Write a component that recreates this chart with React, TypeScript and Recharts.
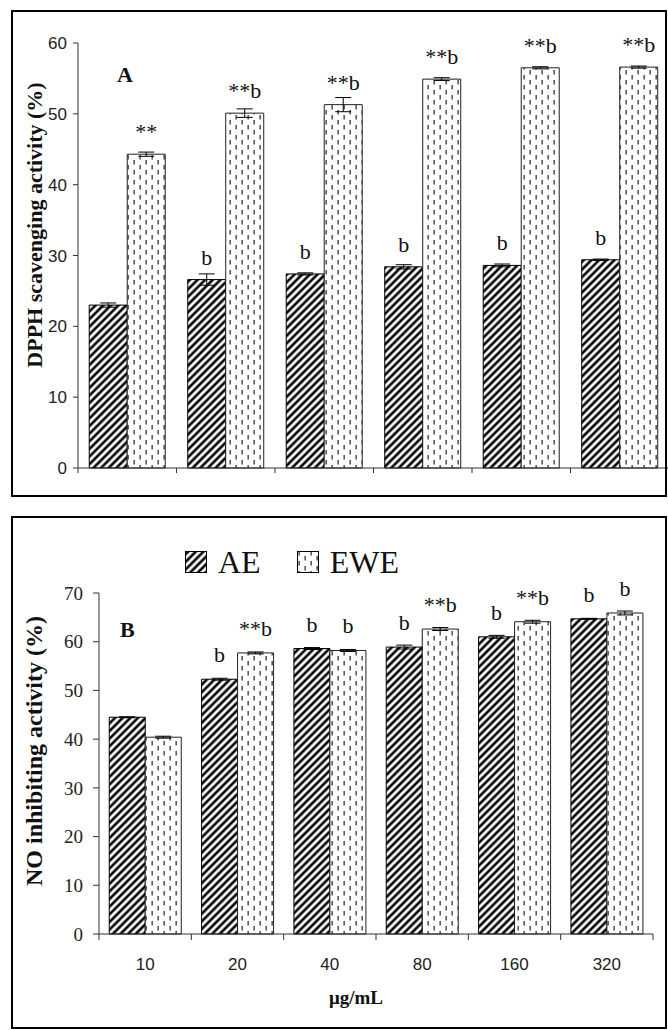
import React from 'react';
import { BarChart, Bar, XAxis, YAxis, ErrorBar, LabelList, Legend } from 'recharts';

const doses = ['10', '20', '40', '80', '160', '320'];
const edgeTicks = [0, 0.5, 1, 1.5, 2, 2.5, 3, 3.5, 4, 4.5, 5, 5.5, 6];

// A: DPPH scavenging
const dpphAE = [23.0, 26.6, 27.4, 28.4, 28.6, 29.4];
const dpphAEErr = [0.3, 0.8, 0.15, 0.3, 0.2, 0.1];
const dpphEWE = [44.3, 50.1, 51.3, 54.9, 56.5, 56.6];
const dpphEWEErr = [0.3, 0.6, 1.0, 0.2, 0.15, 0.15];
const dpphAEMarks = ['', 'b', 'b', 'b', 'b', 'b'];
const dpphEWEMarks = ['**', '**b', '**b', '**b', '**b', '**b'];
const dpphTicks = [0, 10, 20, 30, 40, 50, 60];

// B: NO inhibiting
const noAE = [44.5, 52.3, 58.6, 58.9, 61.0, 64.7];
const noAEErr = [0.1, 0.2, 0.2, 0.4, 0.3, 0.1];
const noEWE = [40.4, 57.7, 58.2, 62.6, 64.1, 65.9];
const noEWEErr = [0.2, 0.2, 0.2, 0.3, 0.3, 0.4];
const noAEMarks = ['', 'b', 'b', 'b', 'b', 'b'];
const noEWEMarks = ['', '**b', 'b', '**b', '**b', 'b'];
const noTicks = [0, 10, 20, 30, 40, 50, 60, 70];

const SERIF = '"Liberation Serif", "Times New Roman", serif';
const SANS = '"Liberation Sans", Arial, sans-serif';

function buildRows(
  ae: number[], aeErr: number[], aeMark: string[],
  ewe: number[], eweErr: number[], eweMark: string[]
) {
  return doses.map((dose, i) => ({
    dose,
    pos: i + 0.5,
    ae: ae[i],
    aeErr: aeErr[i],
    aeMark: aeMark[i],
    ewe: ewe[i],
    eweErr: eweErr[i],
    eweMark: eweMark[i],
  }));
}

const dpphRows = buildRows(dpphAE, dpphAEErr, dpphAEMarks, dpphEWE, dpphEWEErr, dpphEWEMarks);
const noRows = buildRows(noAE, noAEErr, noAEMarks, noEWE, noEWEErr, noEWEMarks);

const markLabel = (offset: number) => (props: any) => {
  const { x, y, width, value } = props;
  if (!value) return <g />;
  return (
    <text
      x={Number(x) + Number(width) / 2}
      y={Number(y) - offset}
      textAnchor="middle"
      fontFamily={SERIF}
      fontSize={22}
      fill="#111"
    >
      {value}
    </text>
  );
};

// ticks on category edges, labels (optional) in the middle
const edgeTick = (showLabels: boolean, tickLen: number) => (props: any) => {
  const { x, y, payload } = props;
  const v = payload.value;
  if (Number.isInteger(v)) {
    return <line x1={x} y1={y} x2={x} y2={y + tickLen} stroke="#333" strokeWidth={1} />;
  }
  if (!showLabels) return <g />;
  return (
    <text x={x} y={y + 36} textAnchor="middle" fontFamily={SANS} fontSize={17} fill="#222">
      {doses[Math.floor(v)]}
    </text>
  );
};

const LegendBox = (props: any) => {
  const items = props.payload || [];
  return (
    <div style={{ display: 'flex', alignItems: 'center', fontFamily: SERIF, fontSize: 32, lineHeight: '34px', color: '#111' }}>
      {items.map((entry: any, i: number) => (
        <span key={entry.value} style={{ display: 'flex', alignItems: 'center', marginRight: i === 0 ? 36 : 0 }}>
          <svg width={22} height={22} style={{ display: 'block' }}>
            <rect x={0.5} y={0.5} width={21} height={21} fill={entry.color} stroke="#000" />
          </svg>
          <span style={{ marginLeft: 11 }}>{entry.value}</span>
        </span>
      ))}
    </div>
  );
};

export default function App() {
  return (
    <div style={{ position: 'fixed', left: 0, top: 0, width: 668, height: 1030, overflow: 'hidden', background: '#fff' }}>
      <svg width={0} height={0} style={{ position: 'absolute' }}>
        <defs>
          <pattern id="hatchAE" patternUnits="userSpaceOnUse" width={5.4} height={5.4} patternTransform="rotate(45)">
            <rect x={0} y={0} width={5.4} height={5.4} fill="#fff" />
            <rect x={1.4} y={0} width={2.6} height={5.4} fill="#000" />
          </pattern>
          <pattern id="dashEWE" patternUnits="userSpaceOnUse" width={12} height={10}>
            <rect x={0} y={0} width={12} height={10} fill="#fff" />
            <rect x={1.5} y={0} width={1.3} height={4.5} fill="#333" />
            <rect x={7.5} y={5} width={1.3} height={4.5} fill="#333" />
          </pattern>
        </defs>
      </svg>

      {/* panel A */}
      <div style={{ position: 'absolute', left: 0, top: 0 }}>
        <BarChart
          width={680}
          height={500}
          data={dpphRows}
          margin={{ top: 43, right: 11, bottom: 2, left: 0 }}
          barCategoryGap="11.4%"
          barGap={0}
        >
          <XAxis xAxisId="cat" dataKey="dose" hide height={0} />
          <XAxis
            xAxisId="edge"
            dataKey="pos"
            type="number"
            domain={[0, 6]}
            ticks={edgeTicks}
            interval={0}
            height={30}
            tickSize={0}
            tickMargin={0}
            tickLine={false}
            axisLine={{ stroke: '#333' }}
            tick={edgeTick(false, 5)}
          />
          <YAxis
            domain={[0, 60]}
            ticks={dpphTicks}
            interval={0}
            width={78}
            tickSize={5}
            tickMargin={6}
            axisLine={{ stroke: '#333' }}
            tickLine={{ stroke: '#333' }}
            tick={{ fill: '#222', fontSize: 17, fontFamily: SANS }}
          />
          <Bar xAxisId="cat" dataKey="ae" name="AE" fill="url(#hatchAE)" stroke="#000" strokeWidth={1} isAnimationActive={false}>
            <ErrorBar dataKey="aeErr" width={8} stroke="#000" strokeWidth={1} direction="y" isAnimationActive={false} />
            <LabelList dataKey="aeMark" content={markLabel(15)} />
          </Bar>
          <Bar xAxisId="cat" dataKey="ewe" name="EWE" fill="url(#dashEWE)" stroke="#222" strokeWidth={1} isAnimationActive={false}>
            <ErrorBar dataKey="eweErr" width={8} stroke="#000" strokeWidth={1} direction="y" isAnimationActive={false} />
            <LabelList dataKey="eweMark" content={markLabel(15)} />
          </Bar>
        </BarChart>
      </div>

      {/* panel B */}
      <div style={{ position: 'absolute', left: 0, top: 516 }}>
        <BarChart
          width={668}
          height={514}
          data={noRows}
          margin={{ top: 77, right: 15, bottom: 36, left: 0 }}
          barCategoryGap="11.1%"
          barGap={0}
        >
          <XAxis xAxisId="cat" dataKey="dose" hide height={0} />
          <XAxis
            xAxisId="edge"
            dataKey="pos"
            type="number"
            domain={[0, 6]}
            ticks={edgeTicks}
            interval={0}
            height={60}
            tickSize={0}
            tickMargin={0}
            tickLine={false}
            axisLine={{ stroke: '#333' }}
            tick={edgeTick(true, 6)}
          />
          <YAxis
            domain={[0, 70]}
            ticks={noTicks}
            interval={0}
            width={99}
            tickSize={6}
            tickMargin={10}
            axisLine={{ stroke: '#333' }}
            tickLine={{ stroke: '#333' }}
            tick={{ fill: '#222', fontSize: 19, fontFamily: SERIF }}
          />
          <Legend
            layout="horizontal"
            verticalAlign="middle"
            align="center"
            content={<LegendBox />}
            wrapperStyle={{ top: 29, left: 185, width: 280, height: 34 }}
          />
          <Bar xAxisId="cat" dataKey="ae" name="AE" fill="url(#hatchAE)" stroke="#000" strokeWidth={1} isAnimationActive={false}>
            <ErrorBar dataKey="aeErr" width={8} stroke="#000" strokeWidth={1} direction="y" isAnimationActive={false} />
            <LabelList dataKey="aeMark" content={markLabel(17)} />
          </Bar>
          <Bar xAxisId="cat" dataKey="ewe" name="EWE" fill="url(#dashEWE)" stroke="#222" strokeWidth={1} isAnimationActive={false}>
            <ErrorBar dataKey="eweErr" width={8} stroke="#000" strokeWidth={1} direction="y" isAnimationActive={false} />
            <LabelList dataKey="eweMark" content={markLabel(17)} />
          </Bar>
        </BarChart>
      </div>

      {/* frames and titles */}
      <svg width={668} height={1030} style={{ position: 'absolute', left: 0, top: 0, pointerEvents: 'none' }}>
        <rect x={12} y={11} width={654} height={485} fill="none" stroke="#000" strokeWidth={2} />
        <rect x={12} y={517} width={654} height={511} fill="none" stroke="#000" strokeWidth={2} />
        <text x={117} y={82} fontFamily={SERIF} fontWeight="bold" fontSize={22} fill="#111">A</text>
        <text x={120} y={637} fontFamily={SERIF} fontWeight="bold" fontSize={22} fill="#111">B</text>
        <text
          transform="translate(42,225) rotate(-90)"
          textAnchor="middle"
          fontFamily={SERIF}
          fontWeight="bold"
          fontSize={22}
          fill="#111"
        >
          DPPH scavenging activity (%)
        </text>
        <text
          transform="translate(42,751) rotate(-90)"
          textAnchor="middle"
          fontFamily={SERIF}
          fontWeight="bold"
          fontSize={24}
          fill="#111"
        >
          NO inhibiting activity (%)
        </text>
        <text x={356} y={1004} textAnchor="middle" fontFamily={SERIF} fontWeight="bold" fontSize={19} fill="#111">
          μg/mL
        </text>
      </svg>
    </div>
  );
}
